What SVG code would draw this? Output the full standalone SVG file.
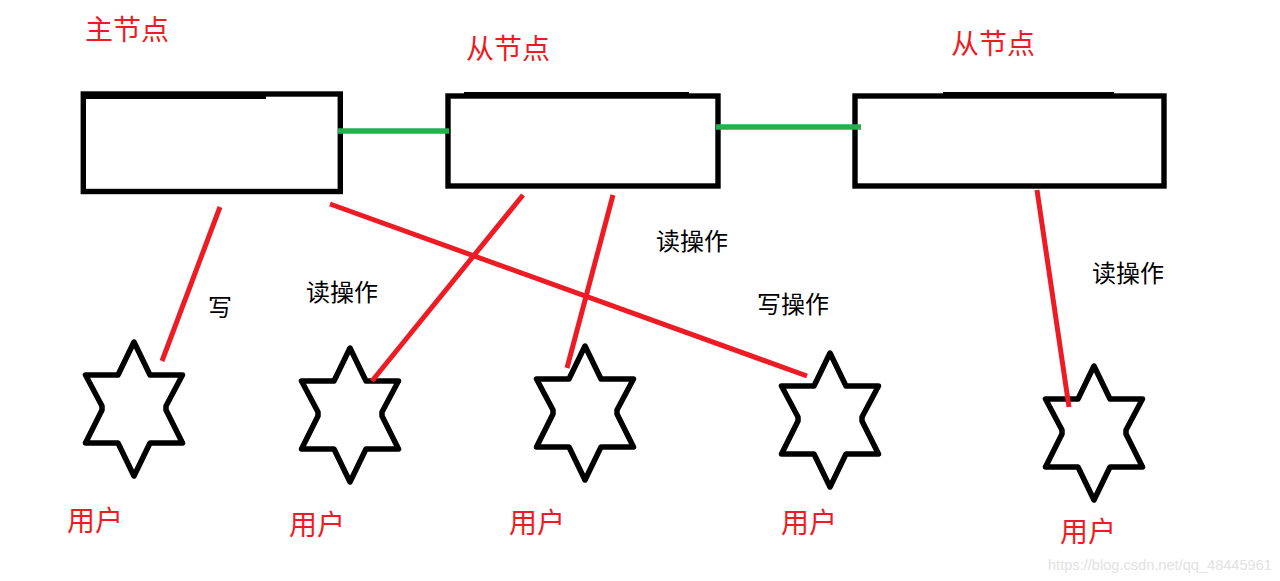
<svg xmlns="http://www.w3.org/2000/svg" width="1280" height="581" viewBox="0 0 1280 581">
<style>
.box{fill:#fff;stroke:#000;stroke-width:5.4}
.cap{fill:#000}
.star{fill:none;stroke:#000;stroke-width:5.5;stroke-linejoin:round}
.g{stroke:#22b14c;stroke-width:5.5;fill:none}
.r{stroke:#ed1c24;stroke-width:5;fill:none}
text{font-family:"Noto Sans CJK SC","Noto Sans",sans-serif}
.rt{fill:#ed1c24;font-size:28px}
.bt{fill:#000;font-size:24px}
.wm{fill:#e2e2e2;font-family:"Liberation Sans",Arial,sans-serif;font-size:14.6px}
</style>
<defs>
<polygon id="s" points="0,-66 16,-33 48.5,-33 32,-2 32,2 48.5,35 16,35 0,68 -16,35 -48.5,35 -32,2 -32,-2 -48.5,-33 -16,-33"/>
</defs>
<rect width="1280" height="581" fill="#fff"/>
<g id="master">
<rect class="box" x="83.3" y="94" width="257" height="97.5"/>
<rect class="cap" x="81" y="92" width="185" height="7"/>
<text class="rt" x="85" y="40">主节点</text>
</g>
<g id="slave1">
<rect class="box" x="448" y="96" width="270" height="90"/>
<rect class="cap" x="464" y="92" width="225" height="5"/>
<text class="rt" x="466" y="59">从节点</text>
</g>
<g id="slave2">
<rect class="box" x="855" y="96" width="309" height="90"/>
<rect class="cap" x="943" y="92" width="171" height="5"/>
<text class="rt" x="951" y="54">从节点</text>
</g>
<g id="user1"><use class="star" href="#s" x="134" y="408"/><text class="rt" x="67" y="531">用户</text></g>
<g id="user2"><use class="star" href="#s" x="350" y="414"/><text class="rt" x="289" y="535">用户</text></g>
<g id="user3"><use class="star" href="#s" x="585" y="412"/><text class="rt" x="509" y="533">用户</text></g>
<g id="user4"><use class="star" href="#s" x="830" y="419"/><text class="rt" x="781" y="533">用户</text></g>
<g id="user5"><use class="star" href="#s" x="1094" y="432"/><text class="rt" x="1060" y="542">用户</text></g>
<g id="connectors">
<path class="g" d="M338 131H449"/>
<path class="g" d="M716 127H861"/>
<path class="r" d="M220 207L162 361"/>
<path class="r" d="M523 195L372 381"/>
<path class="r" d="M613 195L567 368"/>
<path class="r" d="M330 204L807 376"/>
<path class="r" d="M1037 190L1069 407"/>
</g>
<g id="labels">
<text class="bt" x="208" y="316">写</text>
<text class="bt" x="306" y="301">读操作</text>
<text class="bt" x="656" y="250">读操作</text>
<text class="bt" x="757" y="313">写操作</text>
<text class="bt" x="1092" y="282">读操作</text>
<text class="wm" x="1048" y="570">https://blog.csdn.net/qq_48445961</text>
</g>
</svg>
